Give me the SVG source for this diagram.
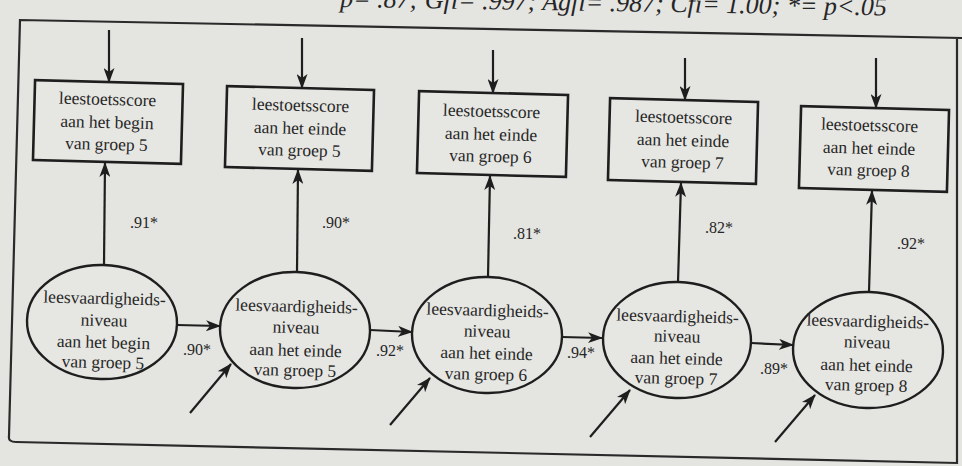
<svg xmlns="http://www.w3.org/2000/svg" width="962" height="466" viewBox="0 0 962 466">
  <style>
    .bg { fill: #e4e4e1; }
    .frame { fill: none; stroke: #2a2a2a; stroke-width: 2.2; }
    .box { fill: #e6e6e3; stroke: #1e1e1e; stroke-width: 2.6; }
    .oval { fill: #e6e6e3; stroke: #1e1e1e; stroke-width: 2.4; }
    .lbl { font-family: "Liberation Serif", "Times New Roman", serif; font-size: 17.5px; fill: #262626; text-anchor: middle; }
    .coef { font-family: "Liberation Serif", "Times New Roman", serif; font-size: 16px; fill: #262626; }
    .fit { font-family: "Liberation Serif", "Times New Roman", serif; font-style: italic; font-size: 26px; fill: #262626; }
    .edge { fill: none; stroke: #1e1e1e; stroke-width: 2.2; marker-end: url(#head); }
  </style>
  <defs>
    <marker id="head" markerUnits="userSpaceOnUse" markerWidth="15" markerHeight="11" refX="14" refY="5.5" orient="auto">
      <path d="M0,0 L15,5.5 L0,11 L4,5.5 z" fill="#1e1e1e"/>
    </marker>
  </defs>

  <rect class="bg" x="0" y="0" width="962" height="466"/>

  <!-- fit statistics line above the frame -->
  <text class="fit" x="340" y="11" transform="rotate(0.9 600 11)">p= .87; Gfi= .997; Agfi= .987; Cfi= 1.00; *= p&lt;.05</text>

  <!-- frame -->
  <path class="frame" d="M962,38 L20,20 L9,436 Q8,442 16,442 L957,463 L957,38"/>

  <!-- observed test scores -->
  <g id="score5begin" transform="rotate(1.5 108 122)">
    <rect class="box" x="34" y="82" width="148" height="80"/>
    <text class="lbl" x="107" y="105">leestoetsscore</text>
    <text class="lbl" x="107" y="128">aan het begin</text>
    <text class="lbl" x="107" y="150">van groep 5</text>
  </g>
  <g id="score5end" transform="rotate(1.5 300 128)">
    <rect class="box" x="226" y="88" width="147" height="81"/>
    <text class="lbl" x="300" y="111">leestoetsscore</text>
    <text class="lbl" x="300" y="134">aan het einde</text>
    <text class="lbl" x="300" y="156">van groep 5</text>
  </g>
  <g id="score6end" transform="rotate(1.5 492 134)">
    <rect class="box" x="418" y="93" width="149" height="82"/>
    <text class="lbl" x="491" y="117">leestoetsscore</text>
    <text class="lbl" x="491" y="140">aan het einde</text>
    <text class="lbl" x="491" y="162">van groep 6</text>
  </g>
  <g id="score7end" transform="rotate(1.5 683 141)">
    <rect class="box" x="609" y="100" width="148" height="82"/>
    <text class="lbl" x="683" y="123">leestoetsscore</text>
    <text class="lbl" x="683" y="146">aan het einde</text>
    <text class="lbl" x="683" y="168">van groep 7</text>
  </g>
  <g id="score8end" transform="rotate(1.5 874 149)">
    <rect class="box" x="800" y="108" width="148" height="82"/>
    <text class="lbl" x="869" y="131">leestoetsscore</text>
    <text class="lbl" x="869" y="154">aan het einde</text>
    <text class="lbl" x="869" y="176">van groep 8</text>
  </g>

  <!-- latent reading levels -->
  <g id="level5begin" transform="rotate(1.5 102 322)">
    <ellipse class="oval" cx="102" cy="322" rx="75" ry="57"/>
    <text class="lbl" x="104" y="304">leesvaardigheids-</text>
    <text class="lbl" x="104" y="326">niveau</text>
    <text class="lbl" x="104" y="348">aan het begin</text>
    <text class="lbl" x="104" y="368">van groep 5</text>
  </g>
  <g id="level5end" transform="rotate(1.5 295 330)">
    <ellipse class="oval" cx="295" cy="330" rx="75" ry="58"/>
    <text class="lbl" x="296" y="312">leesvaardigheids-</text>
    <text class="lbl" x="296" y="333">niveau</text>
    <text class="lbl" x="296" y="356">aan het einde</text>
    <text class="lbl" x="296" y="376">van groep 5</text>
  </g>
  <g id="level6end" transform="rotate(1.5 487 335)">
    <ellipse class="oval" cx="487" cy="335" rx="75" ry="58"/>
    <text class="lbl" x="487" y="316">leesvaardigheids-</text>
    <text class="lbl" x="487" y="337">niveau</text>
    <text class="lbl" x="487" y="359">aan het einde</text>
    <text class="lbl" x="487" y="380">van groep 6</text>
  </g>
  <g id="level7end" transform="rotate(1.5 677 340)">
    <ellipse class="oval" cx="677" cy="340" rx="74" ry="58"/>
    <text class="lbl" x="677" y="322">leesvaardigheids-</text>
    <text class="lbl" x="677" y="342">niveau</text>
    <text class="lbl" x="677" y="364">aan het einde</text>
    <text class="lbl" x="677" y="384">van groep 7</text>
  </g>
  <g id="level8end" transform="rotate(1.5 868 350)">
    <ellipse class="oval" cx="868" cy="350" rx="75" ry="58"/>
    <text class="lbl" x="867" y="327">leesvaardigheids-</text>
    <text class="lbl" x="867" y="348">niveau</text>
    <text class="lbl" x="867" y="371">aan het einde</text>
    <text class="lbl" x="867" y="391">van groep 8</text>
  </g>

  <!-- paths, loadings and error terms -->
  <g id="connectors">
    <!-- measurement errors into the scores -->
    <line class="edge" x1="109" y1="30" x2="109" y2="82"/>
    <line class="edge" x1="302" y1="38" x2="302" y2="88"/>
    <line class="edge" x1="493" y1="50" x2="493" y2="93"/>
    <line class="edge" x1="685" y1="58" x2="685" y2="100"/>
    <line class="edge" x1="876" y1="58" x2="876" y2="108"/>

    <!-- loadings: level to score -->
    <line class="edge" x1="104" y1="265" x2="105" y2="163"/>
    <line class="edge" x1="297" y1="272" x2="298" y2="170"/>
    <line class="edge" x1="488" y1="277" x2="490" y2="176"/>
    <line class="edge" x1="678" y1="282" x2="681" y2="183"/>
    <line class="edge" x1="869" y1="292" x2="872" y2="191"/>

    <!-- stability paths between levels -->
    <line class="edge" x1="177" y1="325" x2="220" y2="326"/>
    <line class="edge" x1="370" y1="330" x2="412" y2="332"/>
    <line class="edge" x1="562" y1="337" x2="602" y2="338"/>
    <line class="edge" x1="751" y1="343" x2="793" y2="345"/>

    <!-- disturbances -->
    <line class="edge" x1="190" y1="413" x2="231" y2="364"/>
    <line class="edge" x1="390" y1="425" x2="430" y2="378"/>
    <line class="edge" x1="590" y1="437" x2="630" y2="390"/>
    <line class="edge" x1="775" y1="442" x2="815" y2="395"/>

    <!-- coefficients -->
    <text class="coef" x="130" y="228">.91*</text>
    <text class="coef" x="322" y="228">.90*</text>
    <text class="coef" x="513" y="239">.81*</text>
    <text class="coef" x="705" y="233">.82*</text>
    <text class="coef" x="897" y="249">.92*</text>
    <text class="coef" x="183" y="355">.90*</text>
    <text class="coef" x="376" y="356">.92*</text>
    <text class="coef" x="567" y="358">.94*</text>
    <text class="coef" x="760" y="374">.89*</text>
  </g>
</svg>
